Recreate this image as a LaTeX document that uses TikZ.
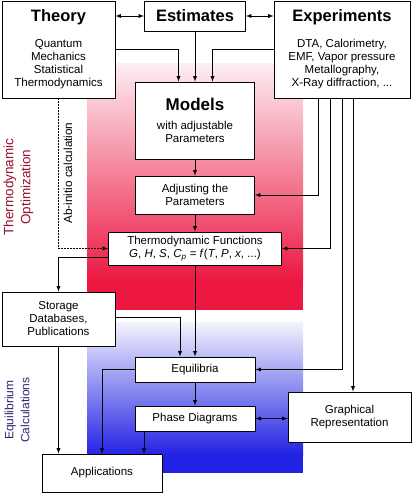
\documentclass[tikz,border=0pt]{standalone}
\usepackage{fontspec}
\setmainfont{Liberation Sans}
\usetikzlibrary{arrows}
\definecolor{optred}{RGB}{236,24,66}
\definecolor{optpink}{RGB}{253,238,243}
\definecolor{eqblue}{RGB}{34,34,228}
\definecolor{eqpale}{RGB}{244,244,253}
\definecolor{optlabel}{RGB}{150,20,45}
\definecolor{eqlabel}{RGB}{40,40,115}
\newcommand{\heading}[1]{{\fontsize{16.5}{20}\selectfont\bfseries #1}}

\begin{document}
\begin{tikzpicture}[x=1pt, y=-1pt, >=latex, line width=0.9pt,
  stage/.style={draw, fill=white, align=center, inner sep=0pt, font=\fontsize{11.5}{13}\selectfont},
  side/.style={rotate=90, align=center}]
  \useasboundingbox (0,0) rectangle (412,493);
  \shade[top color=optpink, bottom color=optred] (87,63) rectangle (303,280);
  \fill[optred] (87,279) rectangle (303,310);
  \shade[top color=eqpale, bottom color=eqblue] (87,322) rectangle (303,455);
  \fill[eqblue] (87,454) rectangle (303,473);

  \node[stage, minimum width=113pt, minimum height=97pt] (theory) at (58.5,49.5)
    {\heading{Theory}\\[13pt] Quantum\\ Mechanics\\ Statistical\\ Thermodynamics};
  \node[stage, minimum width=101pt, minimum height=30pt] (estim) at (195,16) {\heading{Estimates}};
  \node[stage, minimum width=136pt, minimum height=97pt] (exper) at (342,49.5)
    {\heading{Experiments}\\[13pt] DTA, Calorimetry,\\ EMF, Vapor pressure\\ Metallography,\\ X-Ray diffraction, ...};
  \node[stage, minimum width=119pt, minimum height=77pt] (models) at (195,120.5)
    {{\fontsize{17}{20}\selectfont\bfseries Models}\\[6pt] with adjustable\\ Parameters};
  \node[stage, minimum width=119pt, minimum height=38pt] (adjust) at (195,195) {Adjusting the\\ Parameters};
  \node[stage, minimum width=173pt, minimum height=33pt] (thermo) at (195,248.5)
    {Thermodynamic Functions\\ \textit{G}, \textit{H}, \textit{S}, \textit{C}\textsubscript{\textit{p}} = \textit{f}(\textit{T}, \textit{P}, \textit{x}, ...)};
  \node[stage, minimum width=113pt, minimum height=54pt] (storage) at (58.5,319) {Storage\\ Databases,\\ Publications};
  \node[stage, minimum width=120pt, minimum height=25pt] (equil) at (195,369.5) {Equilibria};
  \node[stage, minimum width=120pt, minimum height=25pt] (phase) at (195,418.5) {Phase Diagrams};
  \node[stage, minimum width=123pt, minimum height=50pt] (graph) at (349.5,417) {Graphical\\ Representation};
  \node[stage, minimum width=120pt, minimum height=38pt] (appl) at (102,473) {Applications};

  \node[side, text=optlabel, font=\fontsize{13.5}{17}\selectfont] (optim) at (18.5,187) {Thermodynamic\\ Optimization};
  \node[side, text=eqlabel, font=\fontsize{12}{16}\selectfont] (eqcalc) at (17,410) {Equilibrium\\ Calculations};
  \node[side, font=\fontsize{11.7}{13}\selectfont] (abinitio) at (68,173) {Ab-initio calculation};

  \draw[<->] (estim.west) -- (estim.west -| theory.east);
  \draw[<->] (estim.east) -- (estim.east -| exper.west);
  \draw[->] (theory.east) -| ([xshift=-16.5pt]models.north);
  \draw[->] (exper.west) -| ([xshift=17.5pt]models.north);
  \path[->] (estim) edge (models)
            (models) edge (adjust)
            (adjust) edge (thermo)
            (thermo) edge (equil)
            (equil) edge (phase);
  \draw[->] ([xshift=-24pt]exper.south) |- (adjust.east);
  \draw[->] ([xshift=-12pt]exper.south) |- (thermo.east);
  \draw[->] (exper.south) |- (equil.east);
  \draw[->] ([xshift=11pt]exper.south) -- ([xshift=11pt]exper.south |- graph.north);
  \draw[->, dash pattern=on 1.3pt off 1.7pt] (theory.south) |- (thermo.west);
  \draw[->] ([yshift=-8.5pt]thermo.west) -| (storage.north);
  \draw[->] ([yshift=2pt]storage.east) -| ([xshift=-15pt]equil.north);
  \draw[->] (storage.south) -- (storage.south |- appl.north);
  \draw[->] (equil.west) -| (appl.north);
  \draw[->] ([xshift=-51pt]phase.south) -- ([xshift=-51pt]phase.south |- appl.north);
  \draw[<->] (phase.east) -- (phase.east -| graph.west);
\end{tikzpicture}
\end{document}
